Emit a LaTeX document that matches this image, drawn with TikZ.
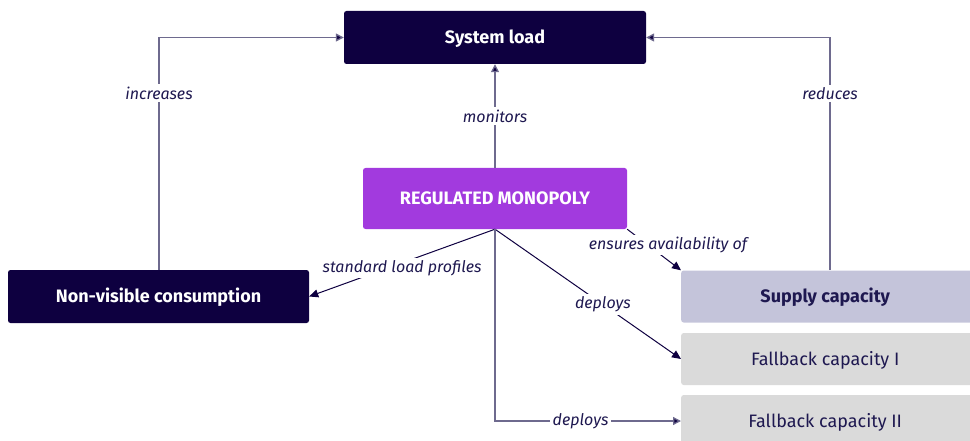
\documentclass[tikz,border=0pt]{standalone}
\usepackage{fontspec}
\setmainfont{Fira Sans}
\usetikzlibrary{arrows.meta}
\definecolor{navy}{HTML}{0E0040}
\definecolor{regpurple}{HTML}{A23ADE}
\definecolor{supplyfill}{HTML}{C4C4DA}
\definecolor{fbfill}{HTML}{DADADA}
\definecolor{wire}{HTML}{6E6A8E}
\definecolor{ink}{HTML}{1E1850}
\tikzset{
  box/.style={rounded corners=2.5pt, minimum height=53pt, inner sep=0pt, text height=12.4pt, text depth=0pt, font=\fontsize{18}{21}\selectfont\bfseries},
  darkbox/.style={box, fill=navy, text=white},
  capbox/.style={box, text=ink, minimum width=300pt, minimum height=52pt},
  wireline/.style={draw=wire, line width=1.3pt, -{Triangle[length=8pt,width=8pt,fill=navy]}},
  diag/.style={draw=navy, line width=1pt, -{Triangle[length=9pt,width=8pt,fill=navy]}},
  lbl/.style={fill=white, text=ink, inner sep=2.5pt, font=\fontsize{16}{18}\selectfont\itshape},
}
\begin{document}
\begin{tikzpicture}[x=1pt,y=-1pt]
\useasboundingbox (0,0) rectangle (970,441);
% nodes
\node[darkbox, minimum width=302pt] (load) at (495,37.5) {System load};
\node[box, fill=regpurple, text=white, minimum width=264pt, minimum height=61pt] (reg) at (495,198.5) {REGULATED MONOPOLY};
\node[darkbox, minimum width=301pt] (nv) at (158.5,296.5) {Non-visible consumption};
\node[capbox, fill=supplyfill, anchor=west] (sup) at (681,296.5) {\hspace*{-12pt}Supply capacity};
\node[capbox, fill=fbfill, anchor=west, font=\fontsize{18}{21}\selectfont] (fb1) at (681,359) {\hspace*{-12pt}Fallback capacity I};
\node[capbox, fill=fbfill, anchor=west, font=\fontsize{18}{21}\selectfont] (fb2) at (681,421) {\hspace*{-12pt}Fallback capacity II};
% connectors
\coordinate (nvtop) at (159,270);
\coordinate (suptop) at (830,270);
\draw[wireline] (nvtop) |- (load.west) node[lbl, pos=0.38] {increases};
\draw[wireline] (suptop) |- (load.east) node[lbl, pos=0.38] {reduces};
\draw[wireline] (reg.north) -- (load.south) node[lbl, midway] {monitors};
\draw[diag] (reg.south) -- (nv.east) node[lbl, pos=0.5, yshift=-5pt] {standard load profiles};
\draw[diag] (reg.south east) -- (sup.north west);
\node[lbl] (ens) at (668,245) {ensures availability of};
\draw[diag] (reg.south) -- (fb1.west) node[lbl, pos=0.58] {deploys};
\draw[wireline] (reg.south) |- (fb2.west) node[lbl, pos=0.73] {deploys};
\end{tikzpicture}
\end{document}
